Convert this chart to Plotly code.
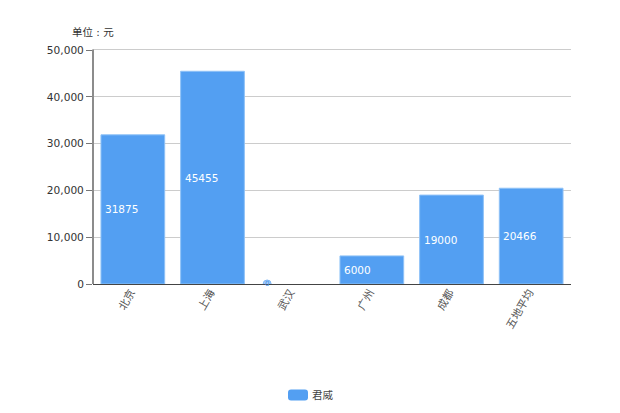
import plotly.graph_objects as go

categories = ["北京", "上海", "武汉", "广州", "成都", "五地平均"]
values = [31875, 45455, 0, 6000, 19000, 20466]
series_name = "君威"
unit_label = "单位 : 元"
y_ticks = [0, 10000, 20000, 30000, 40000, 50000]

PAGE = 8  # page margin around the plot
W, H = 620 - 2 * PAGE, 413 - 2 * PAGE
L, R, T, B = 93 - PAGE, 571 - PAGE, 50 - PAGE, 284 - PAGE
BLUE = "#539ff2"
EDGE = "#8fc2f7"
FONT = "DejaVu Sans, Noto Sans CJK SC, sans-serif"


def px(x):
    return (x - PAGE - L) / (R - L)


def py(y):
    return (B - (y - PAGE)) / (B - T)


annotations = []
shapes = []
for c, v in zip(categories, values):
    if v > 0:
        annotations.append(dict(x=c, y=v / 2, text=str(v), showarrow=False, xanchor="left",
                                xshift=-30, font=dict(family=FONT, size=10.5, color="#ffffff")))
    else:
        shapes.append(dict(type="circle", xref="x", yref="y", xsizemode="pixel", ysizemode="pixel",
                           xanchor=c, yanchor=v, x0=-29, x1=-21, y0=-4, y1=4,
                           fillcolor="#a6cdf8", line=dict(color="#7db6f5", width=1)))
        annotations.append(dict(x=c, y=v, text=str(v), showarrow=False, xanchor="center",
                                xshift=-25, font=dict(family=FONT, size=7, color="#3f8fe8")))

# rounded legend key
x0, x1, y0, y1, r = px(288), px(308), py(400.5), py(389.5), 3
rx, ry = r / (R - L), r / (B - T)
key_path = (f"M{x0 + rx},{y0} L{x1 - rx},{y0} Q{x1},{y0} {x1},{y0 + ry} L{x1},{y1 - ry} "
            f"Q{x1},{y1} {x1 - rx},{y1} L{x0 + rx},{y1} Q{x0},{y1} {x0},{y1 - ry} "
            f"L{x0},{y0 + ry} Q{x0},{y0} {x0 + rx},{y0} Z")
shapes.append(dict(type="path", xref="paper", yref="paper", path=key_path,
                   fillcolor=BLUE, line=dict(color=BLUE, width=0)))
# top gridline (plotly drops gridlines at the range end) and the wide y-axis line
shapes.append(dict(type="line", xref="paper", yref="paper", x0=0, x1=1, y0=py(49.5), y1=py(49.5),
                   line=dict(color="#cccccc", width=1), layer="below"))
shapes.append(dict(type="line", xref="paper", yref="paper", x0=0, x1=0, y0=0, y1=py(49.5),
                   line=dict(color="#8c8c8c", width=2)))

annotations += [
    dict(xref="paper", yref="paper", x=px(72), y=py(32), text=unit_label, showarrow=False,
         xanchor="left", yanchor="middle", xshift=-2, font=dict(size=10.5, color="#333333")),
    dict(xref="paper", yref="paper", x=px(312), y=py(395), text=series_name, showarrow=False,
         xanchor="left", yanchor="middle", xshift=-2, font=dict(size=10.5, color="#444444")),
]

fig = go.Figure()
fig.add_trace(go.Bar(
    x=categories, y=values, name=series_name,
    marker=dict(color=BLUE, line=dict(color=[EDGE if v > 0 else BLUE for v in values],
                                      width=[1 if v > 0 else 0 for v in values])),
    width=0.8, showlegend=False,
))

fig.update_layout(
    width=W, height=H, autosize=False,
    margin=dict(l=L, r=W - R, t=T, b=H - B),
    paper_bgcolor="white", plot_bgcolor="white",
    font=dict(family=FONT, size=11, color="#333333"),
    showlegend=False, bargap=0.2,
    xaxis=dict(type="category", categoryorder="array", categoryarray=categories,
               tickangle=-60, ticks="", showline=True, linecolor="#444444", linewidth=1,
               showgrid=False, zeroline=False, tickfont=dict(size=10.8, color="#555555"),
               ticklabelstandoff=-3, ticklabelshift=-2, automargin=False),
    yaxis=dict(range=[0, 50000], tickvals=y_ticks, tickformat=",", ticks="outside", ticklen=6,
               tickcolor="#777777", tickwidth=1, showline=False,
               showgrid=True, gridcolor="#cccccc", gridwidth=1, zeroline=False,
               tickfont=dict(size=10.6, color="#333333"), automargin=False),
    annotations=annotations,
    shapes=shapes,
)
fig.write_html("out.html")
